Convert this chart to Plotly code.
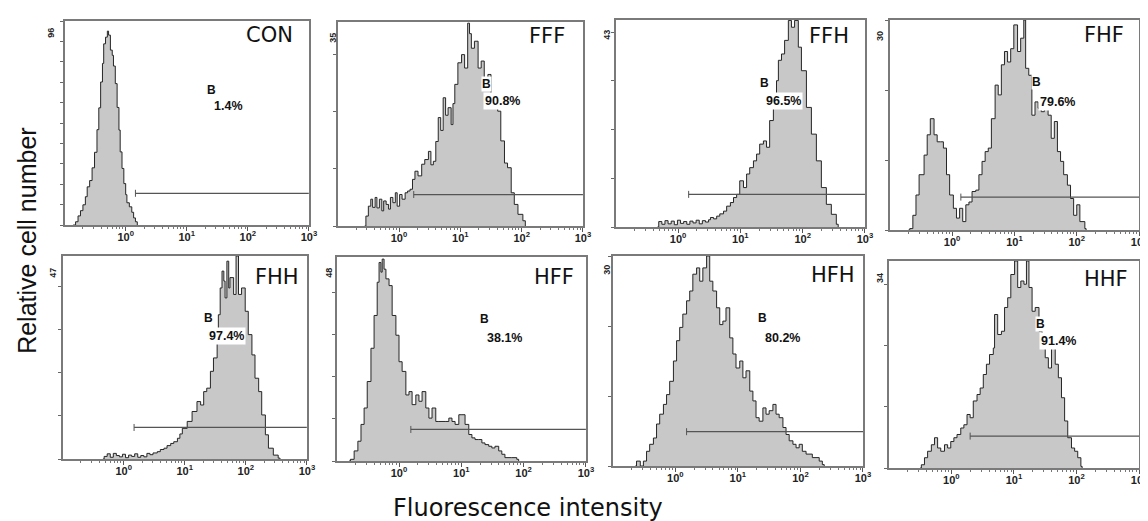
import numpy as np
import plotly.graph_objects as go

# ---------------- data ----------------
panel_names = ["CON", "FFF", "FFH", "FHF", "FHH", "HFF", "HFH", "HHF"]
y_top_labels = ["96", "35", "43", "30", "47", "48", "30", "34"]
pct_texts = ["1.4%", "90.8%", "96.5%", "79.6%", "97.4%", "38.1%", "80.2%", "91.4%"]

# histogram outlines: log10(fluorescence) and cell counts
con_log = [-0.86, -0.82, -0.78, -0.74, -0.70, -0.66, -0.63, -0.59, -0.55, -0.51,
           -0.47, -0.44, -0.41, -0.38, -0.36, -0.33, -0.30, -0.28, -0.25, -0.22,
           -0.20, -0.17, -0.14, -0.11, -0.09, -0.06, -0.03, 0.00, 0.02, 0.06,
           0.10, 0.13, 0.16, 0.19]
con_cnt = [0, 1.6, 4.5, 7.1, 10, 14, 18.9, 22, 28.3, 36,
           47.2, 58, 70.8, 80, 89.7, 93, 96, 94, 86.6, 84,
           78.7, 70, 58.2, 47, 36.2, 28, 20.5, 15, 11, 9,
           6.3, 3.5, 1.6, 0]

fff_log = [-0.56, -0.54, -0.50, -0.46, -0.43, -0.39, -0.36, -0.32, -0.28, -0.25,
           -0.21, -0.17, -0.14, -0.10, -0.06, -0.03, 0.01, 0.05, 0.10, 0.14,
           0.18, 0.22, 0.26, 0.31, 0.37, 0.42, 0.48, 0.52, 0.56, 0.60,
           0.64, 0.68, 0.72, 0.76, 0.80, 0.85, 0.88, 0.91, 0.96, 1.02,
           1.07, 1.12, 1.15, 1.18, 1.23, 1.29, 1.34, 1.39, 1.45, 1.50,
           1.56, 1.61, 1.66, 1.72, 1.77, 1.83, 1.88, 1.94, 2.02, 2.06]
fff_cnt = [0, 1.7, 3.4, 4.6, 3.2, 4.9, 3.1, 4.6, 2.6, 4.3,
           3.7, 2.9, 4.9, 4.0, 5.7, 3.4, 5.4, 4.6, 5.7, 6.0,
           6.3, 8.0, 9.4, 8.6, 10.6, 11.4, 12.8, 10.5, 11.1, 14.5,
           18.6, 16.4, 22.0, 19.0, 20.3, 17.4, 21.0, 24.3, 28.0, 29.4,
           27.1, 34.8, 33.0, 30.5, 31.7, 27.1, 28.3, 23.7, 26.0, 21.4,
           20.3, 19.7, 14.6, 10.8, 10.0, 5.7, 3.7, 2.0, 0.9, 0]

ffh_log = [-0.33, -0.31, -0.26, -0.21, -0.16, -0.11, -0.06, -0.01, 0.04, 0.09,
           0.14, 0.19, 0.24, 0.29, 0.34, 0.39, 0.44, 0.49,
           0.52, 0.57, 0.62, 0.67, 0.73, 0.78, 0.84, 0.89, 0.94, 0.99,
           1.05, 1.10, 1.15, 1.21, 1.26, 1.31, 1.37, 1.42, 1.47, 1.53,
           1.58, 1.61, 1.66, 1.71, 1.77, 1.82, 1.87, 1.93, 1.98, 2.06,
           2.14, 2.22, 2.30, 2.38, 2.46, 2.54, 2.57]
ffh_cnt = [0, 1.2, 0.6, 1.4, 0.7, 1.3, 0.5, 1.5, 0.8, 1.2,
           0.6, 1.3, 0.9, 1.5, 0.7, 1.4, 1.1, 1.6,
           2.1, 1.8, 2.4, 2.9, 3.5, 4.6, 5.4, 6.5, 7.2, 10.2,
           8.7, 11.7, 13.1, 14.6, 16.1, 18.3, 19.0, 17.6, 23.5, 26.4,
           32.3, 36.8, 38.2, 41.2, 45.6, 44.1, 45.6, 39.7, 34.5, 26.4,
           20.5, 14.6, 8.7, 5.0, 2.8, 0.6, 0]

fhf_log = [-0.70, -0.68, -0.63, -0.58, -0.53, -0.45, -0.40, -0.35, -0.29, -0.24,
           -0.19, -0.14, -0.09, -0.04, 0.02, 0.07, 0.12, 0.17, 0.22, 0.27,
           0.32, 0.38, 0.43, 0.48, 0.53, 0.58, 0.63, 0.69, 0.74, 0.79,
           0.84, 0.89, 0.94, 0.99, 1.05, 1.10, 1.15, 1.18, 1.23, 1.28,
           1.33, 1.38, 1.43, 1.48, 1.54, 1.59, 1.64, 1.69, 1.74, 1.79,
           1.85, 1.90, 1.95, 2.00, 2.05, 2.13, 2.15]
fhf_cnt = [0, 0.2, 2.1, 5.0, 7.9, 10.7, 13.6, 15.9, 13.6, 12.6,
           12.6, 11.7, 7.9, 5.0, 3.1, 1.7, 3.1, 1.2, 3.6, 4.0,
           5.5, 5.7, 7.9, 9.8, 11.2, 11.7, 15.9, 20.7, 19.3, 23.6,
           25.5, 24.0, 25.9, 29.3, 25.5, 27.4, 30.0, 23.1, 22.1, 16.4,
           18.3, 17.4, 16.9, 17.4, 16.4, 13.1, 15.5, 11.2, 9.8, 7.9,
           6.4, 4.5, 2.1, 3.6, 1.2, 0.2, 0]

fhh_log = [-0.34, -0.32, -0.27, -0.22, -0.17, -0.12, -0.07, -0.02, 0.03, 0.08,
           0.13, 0.18, 0.23, 0.28, 0.33, 0.38, 0.43, 0.48,
           0.55, 0.60, 0.66, 0.71, 0.77, 0.82, 0.88, 0.92, 0.96,
           1.04, 1.12, 1.20, 1.26, 1.31, 1.36, 1.42, 1.47, 1.53, 1.55,
           1.58, 1.61, 1.64, 1.66, 1.69, 1.72, 1.74, 1.80, 1.84, 1.88,
           1.93, 1.99, 2.04, 2.10, 2.15, 2.21, 2.26, 2.32, 2.37, 2.45,
           2.53, 2.56]
fhh_cnt = [0, 0.6, 1.2, 0.4, 1.3, 0.8, 0.5, 1.1, 0.3, 0.9,
           0.6, 1.2, 0.4, 0.8, 0.5, 1.3, 1.0, 1.4,
           1.7, 2.2, 2.5, 3.1, 3.6, 4.0, 4.8, 5.8, 7.1,
           8.7, 11.0, 13.3, 12.5, 15.6, 16.4, 20.3, 23.4, 28.0, 33.4,
           39.6, 43.5, 41.2, 37.3, 45.8, 39.6, 42.0, 38.1, 47.0, 38.1,
           39.6, 34.2, 28.8, 24.1, 18.7, 15.6, 10.2, 5.6, 2.5, 0.9,
           0.2, 0]

hff_log = [-0.80, -0.78, -0.72, -0.66, -0.61, -0.56, -0.51, -0.45, -0.40, -0.35,
           -0.32, -0.29, -0.27, -0.24, -0.21, -0.16, -0.11, -0.05, 0.00, 0.05,
           0.11, 0.16, 0.21, 0.27, 0.32, 0.37, 0.43, 0.48, 0.53, 0.59,
           0.64, 0.69, 0.74, 0.80, 0.85, 0.90, 0.96, 1.01, 1.06, 1.12,
           1.17, 1.22, 1.28, 1.33, 1.38, 1.44, 1.49, 1.54, 1.60, 1.65,
           1.70, 1.81, 1.89, 1.92]
hff_cnt = [0, 0.4, 2.4, 4.7, 8.7, 12.6, 18.9, 26.8, 34.6, 42.5,
           47.2, 44.9, 48.0, 45.6, 43.3, 41.7, 34.6, 29.9, 23.6, 21.3,
           15.7, 16.5, 13.4, 15.7, 14.2, 16.5, 12.6, 10.2, 12.6, 9.4,
           9.4, 9.4, 9.4, 10.2, 9.4, 8.7, 11.0, 11.0, 8.7, 6.3,
           5.5, 5.1, 5.1, 4.3, 3.9, 3.5, 3.1, 3.5, 2.4, 1.6,
           0.8, 0.8, 0.4, 0]

hfh_log = [-0.64, -0.62, -0.56, -0.51, -0.46, -0.41, -0.35, -0.30, -0.25, -0.19,
           -0.14, -0.09, -0.03, 0.02, 0.07, 0.12, 0.18, 0.23, 0.28, 0.34,
           0.39, 0.44, 0.50, 0.55, 0.60, 0.66, 0.71, 0.76, 0.81, 0.87,
           0.92, 0.97, 1.03, 1.08, 1.13, 1.19, 1.24, 1.29, 1.34, 1.40,
           1.45, 1.50, 1.56, 1.61, 1.66, 1.72, 1.77, 1.82, 1.88, 1.93,
           1.98, 2.03, 2.09, 2.19, 2.30, 2.35, 2.38]
hfh_cnt = [0, 0.7, 0, 0.7, 2.1, 3.1, 4.0, 6.0, 7.4, 8.8,
           10.2, 12.1, 15.0, 17.9, 19.8, 21.7, 23.6, 25.0, 27.4, 28.3,
           26.4, 28.3, 30.0, 26.4, 25.0, 22.6, 20.2, 20.7, 22.6, 18.3,
           16.0, 14.0, 15.0, 12.6, 13.6, 10.7, 9.3, 6.9, 6.4, 8.3,
           7.4, 7.9, 8.8, 7.4, 6.9, 5.5, 4.5, 3.6, 3.1, 2.6,
           3.1, 2.1, 1.7, 1.2, 0.7, 0.2, 0]

hhf_log = [-0.50, -0.48, -0.43, -0.38, -0.32, -0.27, -0.22, -0.17, -0.11, -0.06,
           -0.01, 0.04, 0.09, 0.15, 0.20, 0.25, 0.30, 0.35, 0.41, 0.46,
           0.51, 0.56, 0.61, 0.67, 0.69, 0.74, 0.80, 0.85, 0.90, 0.95,
           1.01, 1.06, 1.11, 1.16, 1.20, 1.24, 1.29, 1.34, 1.40, 1.45,
           1.50, 1.55, 1.60, 1.66, 1.71, 1.76, 1.81, 1.86, 1.92, 1.97,
           2.02, 2.07, 2.09]
hhf_cnt = [0, 0.6, 1.9, 3.1, 4.3, 5.6, 3.7, 3.1, 4.3, 3.7,
           4.9, 5.6, 6.2, 7.4, 8.0, 9.9, 9.3, 12.4, 13.6, 14.8,
           17.3, 19.2, 21.0, 22.2, 28.4, 24.7, 25.3, 29.7, 31.5, 35.8,
           38.3, 33.4, 34.6, 34.0, 38.3, 33.4, 29.0, 29.7, 25.3, 23.5,
           20.4, 18.5, 22.2, 19.2, 16.7, 13.0, 8.7, 5.6, 3.7, 3.1,
           1.9, 0.3, 0]

hist_logs = [con_log, fff_log, ffh_log, fhf_log, fhh_log, hff_log, hfh_log, hhf_log]
hist_cnts = [con_cnt, fff_cnt, ffh_cnt, fhf_cnt, fhh_cnt, hff_cnt, hfh_cnt, hhf_cnt]

# marker gate "B": start (log10) and height (counts)
gate_start = [0.16, 0.24, 0.17, 0.14, 0.17, 0.19, 0.18, 0.30]
gate_level = [15.7, 5.4, 7.2, 4.7, 7.3, 7.5, 4.9, 5.9]

# y-axis extent (count at the top of the frame) and tick spacing
y_top = [101.0, 35.0, 45.7, 30.0, 47.0, 48.5, 30.0, 38.3]
y_dtick = [10.1, 9.8, 10.75, 10.0, 10.0, 10.0, 10.0, 11.33]

x_tick_vals = [1, 10, 100, 1000]
x_tick_text = ["<b>10<sup>0</sup></b>", "<b>10<sup>1</sup></b>",
               "<b>10<sup>2</sup></b>", "<b>10<sup>3</sup></b>"]

# ---------------- layout (pixels) ----------------
W, H = 1148, 521
boxes = [(57, 303, 13, 217), (332, 579, 14, 218), (612, 863, 12, 219), (888, 1139, 12, 222),
         (55, 301, 248, 451), (331, 582, 249, 453), (609, 861, 248, 458), (887, 1139, 253, 460)]
title_pos = [(263, 27), (543, 28), (827, 28), (1104, 27),
             (271, 269), (550, 269), (831, 267), (1106, 271)]
ylab_pos = [(43, 25), (327, 30), (603, 27), (878, 28),
            (45, 265), (323, 265), (603, 262), (878, 270)]
b_pos = [(1.41, 67), (1.42, 24.3), (1.38, 31.9), (1.36, 21.2),
         (1.39, 32.7), (1.38, 33.8), (1.40, 21.2), (1.42, 26.6)]
pct_pos = [(1.69, 59), (1.69, 21.4), (1.69, 27.9), (1.69, 18.3),
           (1.69, 28.4), (1.69, 29.3), (1.72, 18.3), (1.71, 23.5)]

minor_vals = [k * 10.0 ** d for d in range(-1, 3) for k in range(2, 10)]

fig = go.Figure()
annotations = []
layout_axes = {}

for i in range(8):
    n = i + 1
    xr = "x" if n == 1 else f"x{n}"
    yr = "y" if n == 1 else f"y{n}"
    x0, x1, y0, y1 = boxes[i]

    xs = np.power(10.0, np.array(hist_logs[i]))
    fig.add_trace(go.Scatter(
        x=xs, y=hist_cnts[i], mode="lines",
        line=dict(shape="hv", color="#262626", width=1),
        fill="tozeroy", fillcolor="#c8c8c8",
        xaxis=xr, yaxis=yr, showlegend=False, hoverinfo="skip"))

    # gate line
    fig.add_trace(go.Scatter(
        x=[10 ** gate_start[i], 1000], y=[gate_level[i], gate_level[i]],
        mode="lines", line=dict(color="#555555", width=1.2),
        xaxis=xr, yaxis=yr, showlegend=False, hoverinfo="skip"))
    fig.add_trace(go.Scatter(
        x=[10 ** gate_start[i]], y=[gate_level[i]], mode="markers",
        marker=dict(symbol="line-ns-open", size=5, color="#555555",
                    line=dict(color="#555555", width=1)),
        xaxis=xr, yaxis=yr, showlegend=False, hoverinfo="skip"))

    layout_axes["xaxis" if n == 1 else f"xaxis{n}"] = dict(
        type="log", range=[-1, 3], domain=[x0 / W, x1 / W], anchor=yr,
        showline=True, linecolor="#7a7a7a", linewidth=1.5, mirror=True,
        ticks="outside", ticklen=4, tickcolor="#555555", tickwidth=1,
        tickvals=x_tick_vals, ticktext=x_tick_text, ticklabelstandoff=-3,
        tickfont=dict(family="Arial", size=11, color="#222222"),
        showgrid=False, zeroline=False,
        minor=dict(ticks="outside", ticklen=2, tickcolor="#777777",
                   tickvals=minor_vals, showgrid=False))
    layout_axes["yaxis" if n == 1 else f"yaxis{n}"] = dict(
        range=[0, y_top[i]], domain=[1 - y1 / H, 1 - y0 / H], anchor=xr,
        showline=True, linecolor="#7a7a7a", linewidth=1.5, mirror=True,
        ticks="outside", ticklen=3, tickcolor="#666666", tick0=0, dtick=y_dtick[i],
        showticklabels=False, showgrid=False, zeroline=False)

    tx, ty = title_pos[i]
    annotations.append(dict(xref="paper", yref="paper", x=tx / W, y=1 - ty / H,
                            text=panel_names[i], showarrow=False,
                            xanchor="center", yanchor="middle",
                            font=dict(family="DejaVu Sans", size=21, color="#111111")))
    lx, ly = ylab_pos[i]
    annotations.append(dict(xref="paper", yref="paper", x=lx / W, y=1 - ly / H,
                            text="<b>" + y_top_labels[i] + "</b>", showarrow=False,
                            textangle=-90, xanchor="center", yanchor="middle",
                            font=dict(family="Arial", size=9, color="#222222")))
    bx, by = b_pos[i]
    annotations.append(dict(xref=xr, yref=yr, x=bx, y=by, text="<b>B</b>",
                            showarrow=False, xanchor="center", yanchor="middle",
                            bgcolor="white", borderpad=0,
                            font=dict(family="Arial", size=12, color="#111111")))
    px, py = pct_pos[i]
    annotations.append(dict(xref=xr, yref=yr, x=px, y=py, text="<b>" + pct_texts[i] + "</b>",
                            showarrow=False, xanchor="center", yanchor="middle",
                            bgcolor="white", borderpad=1,
                            font=dict(family="Arial", size=12.5, color="#111111")))

annotations.append(dict(xref="paper", yref="paper", x=19 / W, y=1 - 232 / H,
                        text="Relative cell number", showarrow=False, textangle=-90,
                        xanchor="center", yanchor="middle",
                        font=dict(family="Liberation Sans", size=25, color="#111111")))
annotations.append(dict(xref="paper", yref="paper", x=524 / W, y=1 - 500 / H,
                        text="Fluorescence intensity", showarrow=False,
                        xanchor="center", yanchor="middle",
                        font=dict(family="DejaVu Sans", size=24, color="#111111")))

fig.update_layout(width=W, height=H, margin=dict(l=0, r=0, t=0, b=0),
                  paper_bgcolor="white", plot_bgcolor="white",
                  annotations=annotations, **layout_axes)

fig.write_html("out.html")
